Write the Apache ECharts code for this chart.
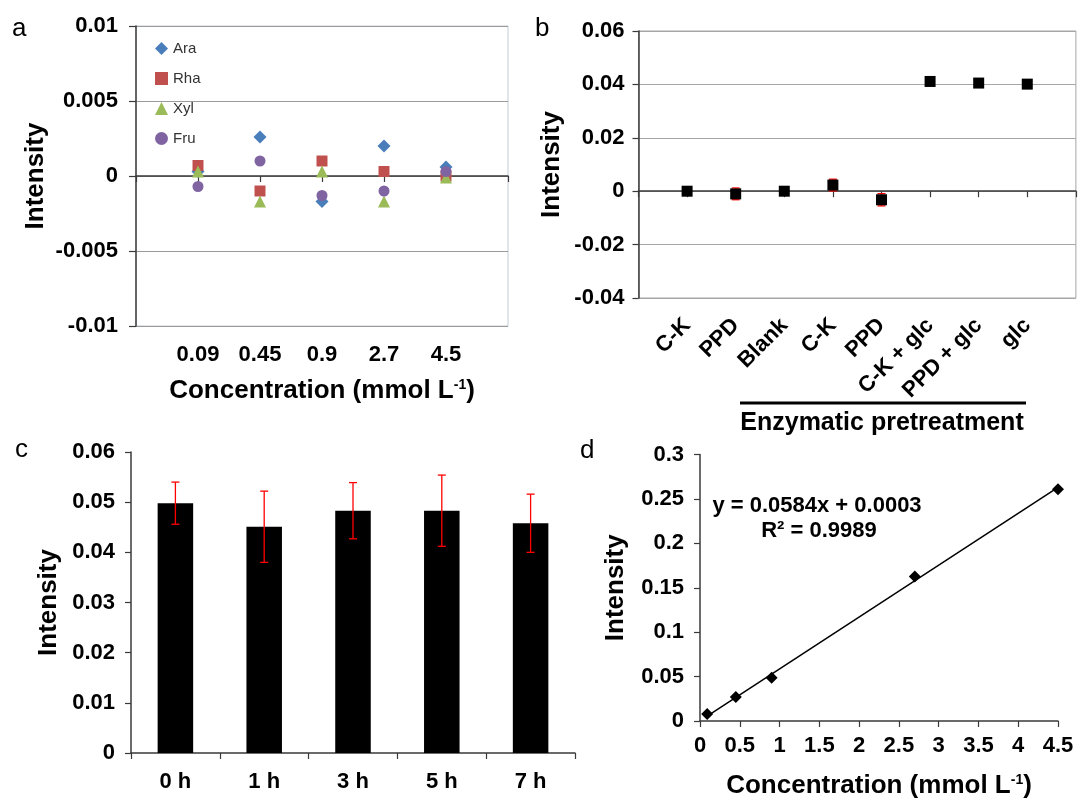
<!DOCTYPE html>
<html>
<head>
<meta charset="utf-8">
<script src="https://cdn.jsdelivr.net/npm/echarts@6/dist/echarts.min.js"></script>
<style>
  html, body { margin: 0; padding: 0; background: #fff; }
  #chart { width: 1078px; height: 800px; }
</style>
</head>
<body>
<div id="chart"></div>
<script>
// (a) interference of other sugars, by concentration
const concLabels = ['0.09', '0.45', '0.9', '2.7', '4.5'];
const araValues = [0.0003, 0.0026, -0.0017, 0.0020, 0.0006];
const rhaValues = [0.0007, -0.0010, 0.0010, 0.0003, 0.0000];
const xylValues = [0.0003, -0.0017, 0.0003, -0.0017, -0.0001];
const fruValues = [-0.0007, 0.0010, -0.0013, -0.0010, 0.0003];
const aTicks = [-0.01, -0.005, 0, 0.005, 0.01];

// (b) samples with / without enzymatic pretreatment
const sampleLabels = ['C-K', 'PPD', 'Blank', 'C-K', 'PPD', 'C-K + glc', 'PPD + glc', 'glc'];
const sampleMeans = [0.0000, -0.0010, 0.0000, 0.0023, -0.0032, 0.0411, 0.0405, 0.0401];
const sampleErrors = [0.0004, 0.0022, 0.0003, 0.0022, 0.0023, 0.0005, 0.0005, 0.0004];

// (c) stability over time
const hourLabels = ['0 h', '1 h', '3 h', '5 h', '7 h'];
const hourMeans = [0.0498, 0.0451, 0.0483, 0.0483, 0.0458];
const hourErrors = [0.0042, 0.0071, 0.0056, 0.0071, 0.0058];

// (d) calibration with glucose standards
const stdConc = [0.09, 0.45, 0.9, 2.7, 4.5];
const stdIntensity = [0.0078, 0.0271, 0.0486, 0.1626, 0.2610];
const fitSlope = 0.0584;
const fitIntercept = 0.0003;
const fitR2 = 0.9989;

const FONT = '"Liberation Sans", Arial, sans-serif';
const TICK_FONT = { fontFamily: FONT, fontWeight: 'bold', fontSize: 22, color: '#000' };
const NAME_FONT = { fontFamily: FONT, fontWeight: 'bold', fontSize: 26, color: '#000' };
const SUP_STYLE = { fontFamily: FONT, fontWeight: 'bold', fontSize: 14, color: '#000', verticalAlign: 'top', padding: [0, 0, 11, 0] };
const AXIS_LINE = { show: true, lineStyle: { color: '#3a3a3a', width: 1.5 } };
const TICK = { show: true, inside: false, length: 6, lineStyle: { color: '#3a3a3a', width: 1.2 } };

function fmtNum(v) {
  // drop trailing zeros the way the tick labels are printed
  return String(parseFloat(v.toFixed(4)));
}

function errorBarSeries(name, xIndex, yIndex, points, capHalf) {
  return {
    name: name,
    type: 'custom',
    xAxisIndex: xIndex,
    yAxisIndex: yIndex,
    silent: true,
    z: 5,
    data: points,
    renderItem: function (params, api) {
      const x = api.value(0);
      const lo = api.coord([x, api.value(1)]);
      const hi = api.coord([x, api.value(2)]);
      const style = { stroke: '#ff0000', lineWidth: 1.3 };
      return {
        type: 'group',
        children: [
          { type: 'line', shape: { x1: hi[0], y1: hi[1], x2: lo[0], y2: lo[1] }, style: style },
          { type: 'line', shape: { x1: hi[0] - capHalf, y1: hi[1], x2: hi[0] + capHalf, y2: hi[1] }, style: style },
          { type: 'line', shape: { x1: lo[0] - capHalf, y1: lo[1], x2: lo[0] + capHalf, y2: lo[1] }, style: style }
        ]
      };
    }
  };
}

const sampleErrPoints = sampleMeans.map((m, i) => [i + 1, m - sampleErrors[i], m + sampleErrors[i]]);
const hourErrPoints = hourMeans.map((m, i) => [i, m - hourErrors[i], m + hourErrors[i]]);

const fitX = [stdConc[0], stdConc[stdConc.length - 1]];
const fitLine = fitX.map(x => [x, fitSlope * x + fitIntercept]);

const option = {
  backgroundColor: '#ffffff',
  animation: false,
  textStyle: { fontFamily: FONT },
  grid: [
    { left: 136, top: 26, width: 372, height: 300, show: true, borderColor: '#c4ccd4', borderWidth: 1, backgroundColor: 'transparent' },
    { left: 638.5, top: 31, width: 444, height: 267, show: true, borderColor: '#a6a6a6', borderWidth: 1, backgroundColor: 'transparent' },
    { left: 131, top: 452, width: 444, height: 301 },
    { left: 700, top: 454.5, width: 358, height: 269 }
  ],
  legend: {
    data: ['Ara', 'Rha', 'Xyl', 'Fru'],
    orient: 'vertical',
    left: 150,
    top: 36,
    itemWidth: 13,
    itemHeight: 13,
    itemGap: 15,
    textStyle: { fontFamily: FONT, fontSize: 15, color: '#333' }
  },
  xAxis: [
    {
      gridIndex: 0, type: 'value', min: 0, max: 6, interval: 1,
      axisLine: AXIS_LINE, axisTick: TICK, splitLine: { show: false },
      axisLabel: Object.assign({}, TICK_FONT, {
        margin: 18,
        formatter: v => concLabels[v - 1] || ''
      }),
      name: 'Concentration (mmol L{sup|-1})',
      nameLocation: 'middle', nameGap: 52,
      nameTextStyle: Object.assign({}, NAME_FONT, { rich: { sup: SUP_STYLE } })
    },
    {
      gridIndex: 1, type: 'value', min: 0, max: 9, interval: 1,
      axisLine: AXIS_LINE, axisTick: TICK, splitLine: { show: false },
      axisLabel: Object.assign({}, TICK_FONT, {
        rotate: 45, margin: 24,
        formatter: v => sampleLabels[v - 1] || ''
      })
    },
    {
      gridIndex: 2, type: 'category', data: hourLabels, boundaryGap: true,
      axisLine: AXIS_LINE, axisTick: TICK,
      axisLabel: Object.assign({}, TICK_FONT, { margin: 18 })
    },
    {
      gridIndex: 3, type: 'value', min: 0, max: 4.5, interval: 0.5,
      axisLine: AXIS_LINE, axisTick: TICK, splitLine: { show: false },
      axisLabel: Object.assign({}, TICK_FONT, { margin: 14, formatter: v => fmtNum(v) }),
      name: 'Concentration (mmol L{sup|-1})',
      nameLocation: 'middle', nameGap: 52,
      nameTextStyle: Object.assign({}, NAME_FONT, { rich: { sup: SUP_STYLE } })
    }
  ],
  yAxis: [
    {
      gridIndex: 0, type: 'value', min: aTicks[0], max: aTicks[aTicks.length - 1], interval: 0.005,
      axisLine: AXIS_LINE, axisTick: Object.assign({}, TICK, { length: 7 }),
      splitLine: { show: true, lineStyle: { color: '#9a9a9a', width: 1.2 } },
      axisLabel: Object.assign({}, TICK_FONT, { margin: 18, formatter: v => fmtNum(v) }),
      name: 'Intensity', nameLocation: 'middle', nameRotate: 90, nameGap: 87,
      nameTextStyle: NAME_FONT
    },
    {
      gridIndex: 1, type: 'value', min: -0.04, max: 0.06, interval: 0.02,
      axisLine: AXIS_LINE, axisTick: TICK,
      splitLine: { show: true, lineStyle: { color: '#a6a6a6', width: 1.2 } },
      axisLabel: Object.assign({}, TICK_FONT, { margin: 14, formatter: v => fmtNum(v) }),
      name: 'Intensity', nameLocation: 'middle', nameRotate: 90, nameGap: 74,
      nameTextStyle: NAME_FONT
    },
    {
      gridIndex: 2, type: 'value', min: 0, max: 0.06, interval: 0.01,
      axisLine: AXIS_LINE, axisTick: TICK, splitLine: { show: false },
      axisLabel: Object.assign({}, TICK_FONT, { margin: 16, formatter: v => fmtNum(v) }),
      name: 'Intensity', nameLocation: 'middle', nameRotate: 90, nameGap: 69,
      nameTextStyle: NAME_FONT
    },
    {
      gridIndex: 3, type: 'value', min: 0, max: 0.3, interval: 0.05,
      axisLine: AXIS_LINE, axisTick: TICK, splitLine: { show: false },
      axisLabel: Object.assign({}, TICK_FONT, { margin: 16, formatter: v => fmtNum(v) }),
      name: 'Intensity', nameLocation: 'middle', nameRotate: 90, nameGap: 71,
      nameTextStyle: NAME_FONT
    }
  ],
  series: [
    { name: 'Ara', type: 'scatter', xAxisIndex: 0, yAxisIndex: 0, symbol: 'diamond', symbolSize: 13,
      itemStyle: { color: '#4a7ebb', opacity: 1 }, data: araValues.map((v, i) => [i + 1, v]), z: 3 },
    { name: 'Rha', type: 'scatter', xAxisIndex: 0, yAxisIndex: 0, symbol: 'rect', symbolSize: 11,
      itemStyle: { color: '#c0504d', opacity: 1 }, data: rhaValues.map((v, i) => [i + 1, v]), z: 4 },
    { name: 'Xyl', type: 'scatter', xAxisIndex: 0, yAxisIndex: 0, symbol: 'triangle', symbolSize: 12,
      itemStyle: { color: '#9bbb59', opacity: 1 }, data: xylValues.map((v, i) => [i + 1, v]), z: 5 },
    { name: 'Fru', type: 'scatter', xAxisIndex: 0, yAxisIndex: 0, symbol: 'circle', symbolSize: 11,
      itemStyle: { color: '#8064a2', opacity: 1 }, data: fruValues.map((v, i) => [i + 1, v]), z: 6 },

    errorBarSeries('sampleError', 1, 1, sampleErrPoints, 4),
    { name: 'Samples', type: 'scatter', xAxisIndex: 1, yAxisIndex: 1, symbol: 'rect', symbolSize: 11,
      itemStyle: { color: '#000', opacity: 1 }, data: sampleMeans.map((v, i) => [i + 1, v]), z: 6 },

    { name: 'Stability', type: 'bar', xAxisIndex: 2, yAxisIndex: 2, barWidth: '40%',
      itemStyle: { color: '#000' }, data: hourMeans, z: 2 },
    errorBarSeries('stabilityError', 2, 2, hourErrPoints, 4),

    { name: 'Fit', type: 'line', xAxisIndex: 3, yAxisIndex: 3, symbol: 'none',
      lineStyle: { color: '#000', width: 1.5 }, data: fitLine, z: 2 },
    { name: 'Standards', type: 'scatter', xAxisIndex: 3, yAxisIndex: 3, symbol: 'diamond', symbolSize: 12,
      itemStyle: { color: '#000', opacity: 1 }, data: stdConc.map((x, i) => [x, stdIntensity[i]]), z: 4 }
  ],
  graphic: [
    { type: 'text', left: 12, top: 16, style: { text: 'a', font: '26px ' + FONT, fill: '#000' } },
    { type: 'text', left: 535, top: 16, style: { text: 'b', font: '26px ' + FONT, fill: '#000' } },
    { type: 'text', left: 15, top: 437, style: { text: 'c', font: '26px ' + FONT, fill: '#000' } },
    { type: 'text', left: 580, top: 438, style: { text: 'd', font: '26px ' + FONT, fill: '#000' } },
    { type: 'line', shape: { x1: 740, y1: 403, x2: 1026, y2: 403 }, style: { stroke: '#000', lineWidth: 3 } },
    { type: 'text', x: 882, y: 423, style: { text: 'Enzymatic pretreatment', font: 'bold 25px ' + FONT, fill: '#000', textAlign: 'center', textVerticalAlign: 'middle' } },
    { type: 'text', x: 817, y: 506, style: { text: 'y = ' + fitSlope + 'x + ' + fitIntercept, font: 'bold 22px ' + FONT, fill: '#000', textAlign: 'center', textVerticalAlign: 'middle' } },
    { type: 'text', x: 819, y: 531, style: { text: 'R\u00b2 = ' + fitR2, font: 'bold 22px ' + FONT, fill: '#000', textAlign: 'center', textVerticalAlign: 'middle' } }
  ]
};

const chart = echarts.init(document.getElementById('chart'), null, { renderer: 'canvas' });
chart.setOption(option);
</script>
</body>
</html>
